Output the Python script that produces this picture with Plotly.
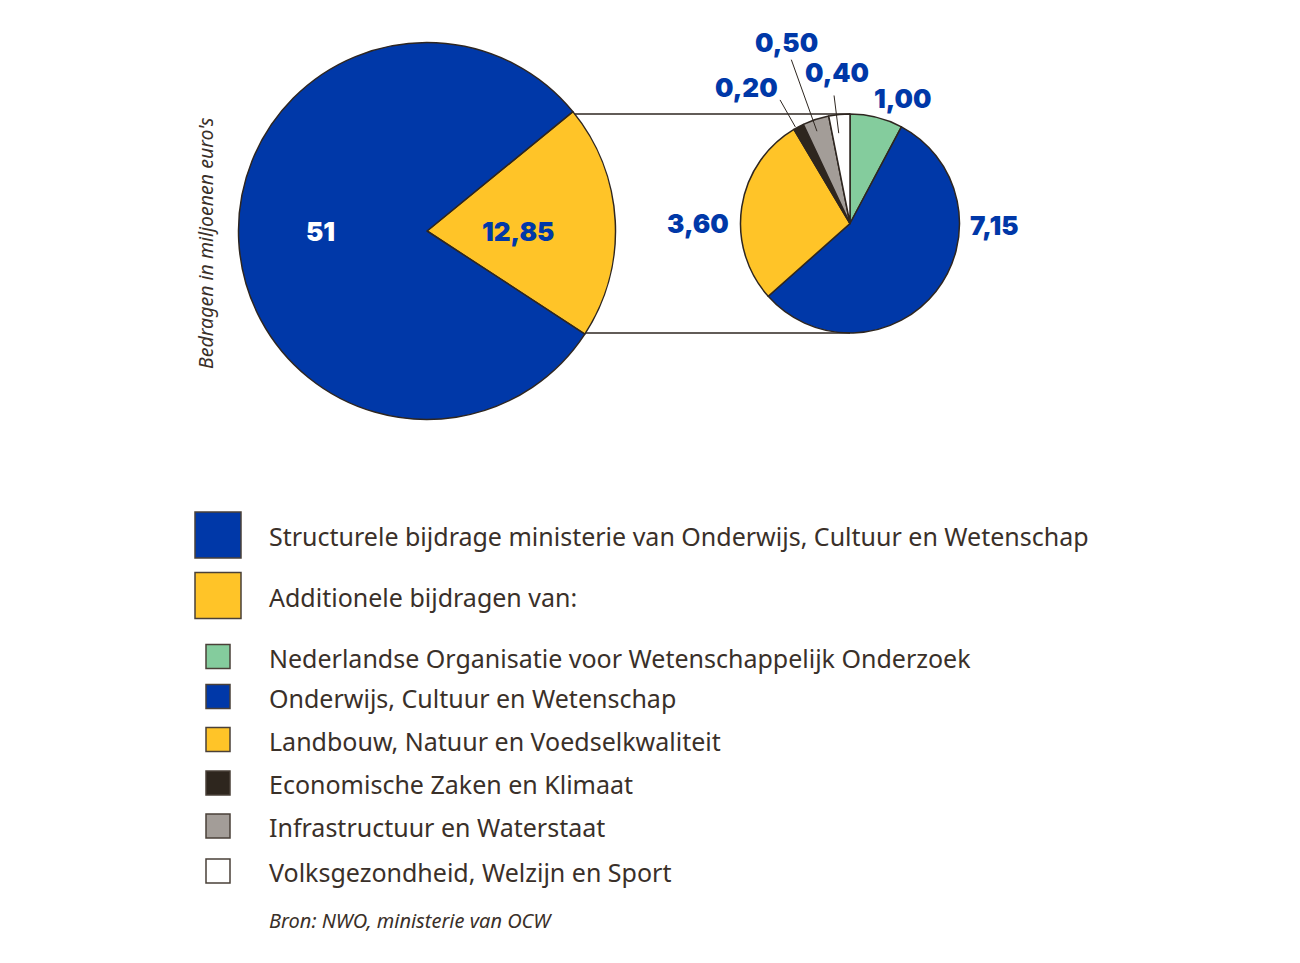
import math
import plotly.graph_objects as go

# data
big_labels = ['Structurele bijdrage ministerie van Onderwijs, Cultuur en Wetenschap',
              'Additionele bijdragen van:']
big_values = [51, 12.85]

small_labels = ['Nederlandse Organisatie voor Wetenschappelijk Onderzoek',
                'Onderwijs, Cultuur en Wetenschap',
                'Landbouw, Natuur en Voedselkwaliteit',
                'Economische Zaken en Klimaat',
                'Infrastructuur en Waterstaat',
                'Volksgezondheid, Welzijn en Sport']
small_values = [1.00, 7.15, 3.60, 0.20, 0.50, 0.40]

y_title = "Bedragen in miljoenen euro's"
source = 'Bron: NWO, ministerie van OCW'

# styles
PAD = 8  # page body margin
W, H = 1300 - 2 * PAD, 963 - 2 * PAD
BLUE = '#0038a8'
YELLOW = '#ffc428'
GREEN = '#84cc9d'
DARK = '#2e261e'
GREY = '#a39d98'
WHITE = '#ffffff'
INK = '#2e2620'
TEXT = '#3a3029'

big_colors = [YELLOW, BLUE]
small_colors = [GREEN, BLUE, YELLOW, DARK, GREY, WHITE]

BIG_CX, BIG_CY, BIG_R = 427, 231, 188.5
SMALL_CX, SMALL_CY, SMALL_R = 850, 223.5, 109.5
BIG_ROT = 50.7

# where the value labels go (angle clockwise from 12 o'clock, distance in px)
big_label_pos = [(90, 91), (270, 107)]
big_label_col = [BLUE, WHITE]
small_label_pos = [(22.9, 136), (90.6, 145), (270, 152), (322.7, 171), (340.6, 192), (355.1, 152)]
small_leader = [None, None, None, (111, 142), (98, 174), (91, 129)]

LABEL_FONT = dict(family='Inter', size=26, color=BLUE, weight=900)
LEGEND_FONT = dict(family='Noto Sans', size=25, color=TEXT)


def px(x):
    return (x - PAD) / W


def py(y):
    return 1 - (y - PAD) / H


def polar(cx, cy, ang, dist):
    a = math.radians(ang)
    return cx + dist * math.sin(a), cy - dist * math.cos(a)


def fmt(v, dec=2):
    return ('%.*f' % (dec, v)).replace('.', ',')


def mid_angles(values, rot):
    tot = sum(values)
    out = []
    acc = 0
    for v in values:
        out.append(rot + 360 * (acc + v / 2) / tot)
        acc += v
    return out


def note(text, x, y, font, **kw):
    d = dict(text=text, x=px(x), y=py(y), xref='paper', yref='paper',
             xanchor='center', yanchor='middle', showarrow=False, font=font)
    d.update(kw)
    return d


fig = go.Figure()

# big pie, the yellow slice goes first so it sits on the right
fig.add_trace(go.Pie(
    labels=[big_labels[1], big_labels[0]],
    values=[big_values[1], big_values[0]],
    marker=dict(colors=big_colors, line=dict(color=INK, width=1.5)),
    sort=False, direction='clockwise', rotation=BIG_ROT,
    textinfo='none', hoverinfo='label+value', showlegend=False,
    domain=dict(x=[px(BIG_CX - BIG_R), px(BIG_CX + BIG_R)],
                y=[py(BIG_CY + BIG_R), py(BIG_CY - BIG_R)]),
))

fig.add_trace(go.Pie(
    labels=small_labels,
    values=small_values,
    marker=dict(colors=small_colors, line=dict(color=INK, width=1.5)),
    sort=False, direction='clockwise', rotation=0,
    textinfo='none', hoverinfo='label+value', showlegend=False,
    domain=dict(x=[px(SMALL_CX - SMALL_R), px(SMALL_CX + SMALL_R)],
                y=[py(SMALL_CY + SMALL_R), py(SMALL_CY - SMALL_R)]),
))

shapes = []
annotations = []

# connector lines from the yellow slice to the small pie
for yy in [SMALL_CY - SMALL_R, SMALL_CY + SMALL_R]:
    dy = yy - BIG_CY
    x0 = BIG_CX + math.sqrt(BIG_R ** 2 - dy ** 2)
    shapes.append(dict(type='line', xref='paper', yref='paper',
                       x0=px(x0), y0=py(yy), x1=px(SMALL_CX), y1=py(yy),
                       line=dict(color=INK, width=1.5)))

# big pie labels
big_vals_in_order = [big_values[1], big_values[0]]
big_dec = [2, 0]
for v, (ang, d), col, dec in zip(big_vals_in_order, big_label_pos, big_label_col, big_dec):
    x, y = polar(BIG_CX, BIG_CY, ang, d)
    annotations.append(note(fmt(v, dec), x, y, dict(LABEL_FONT, color=col)))

# small pie labels + leader lines
mids = mid_angles(small_values, 0)
for v, (ang, d), lead, m in zip(small_values, small_label_pos, small_leader, mids):
    x, y = polar(SMALL_CX, SMALL_CY, ang, d)
    annotations.append(note(fmt(v), x, y, LABEL_FONT))
    if lead:
        xa, ya = polar(SMALL_CX, SMALL_CY, m - 1.5, lead[0])
        xb, yb = polar(SMALL_CX, SMALL_CY, m - 1.5, lead[1])
        shapes.append(dict(type='line', xref='paper', yref='paper',
                           x0=px(xa), y0=py(ya), x1=px(xb), y1=py(yb),
                           line=dict(color=INK, width=1)))

# y title
annotations.append(note('<i>' + y_title + '</i>', 205, 243,
                        dict(family='Noto Sans', size=19.5, color=TEXT), textangle=-90))

# legend, done by hand
big_rows = [535, 595.5]
for lab, col, yc in zip(big_labels, [BLUE, YELLOW], big_rows):
    shapes.append(dict(type='rect', xref='paper', yref='paper',
                       x0=px(195), x1=px(241), y0=py(yc + 23), y1=py(yc - 23),
                       fillcolor=col, line=dict(color='#4a4038', width=1.5)))
    annotations.append(note(lab, 267, yc + 1, LEGEND_FONT, xanchor='left'))

small_rows = [656.5, 696.5, 739.5, 783, 826, 871]
for lab, col, yc in zip(small_labels, small_colors, small_rows):
    shapes.append(dict(type='rect', xref='paper', yref='paper',
                       x0=px(206), x1=px(230), y0=py(yc + 12), y1=py(yc - 12),
                       fillcolor=col, line=dict(color='#4a4038', width=1.5)))
    annotations.append(note(lab, 267, yc + 1, LEGEND_FONT, xanchor='left'))

annotations.append(note('<i>' + source + '</i>', 267, 920,
                        dict(family='Noto Sans', size=20, color=TEXT), xanchor='left'))

fig.update_layout(
    width=W, height=H,
    margin=dict(l=0, r=0, t=0, b=0),
    paper_bgcolor='white', plot_bgcolor='white',
    shapes=shapes, annotations=annotations,
)

fig.write_html('out.html')
